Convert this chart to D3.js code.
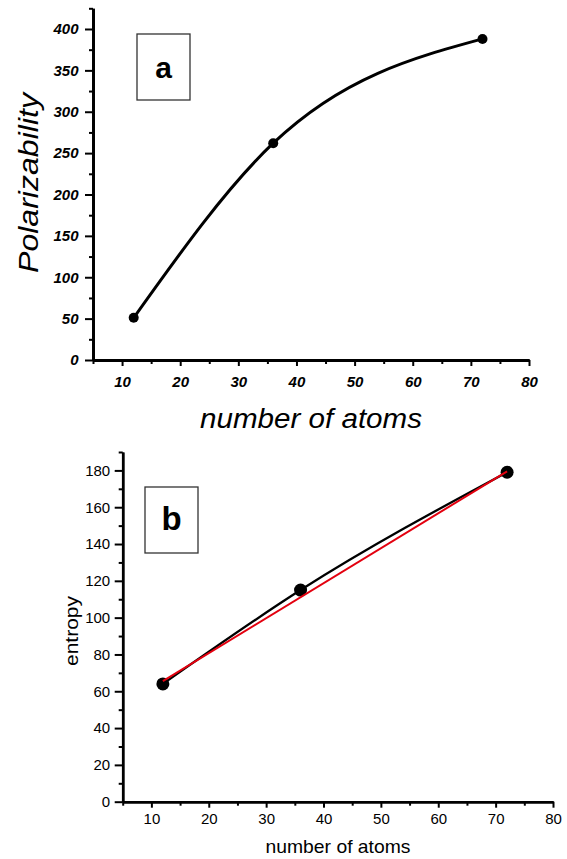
<!DOCTYPE html>
<html>
<head>
<meta charset="utf-8">
<script src="https://cdn.jsdelivr.net/npm/d3@7"></script>
<style>
  body { margin: 0; background: #fff; }
  text { font-family: Arial, "Liberation Sans", sans-serif; }
</style>
</head>
<body>
<div id="chart"></div>
<script>
// panel a
const atomsA = [12, 36, 72];
const polarizability = [51, 262, 388];
// panel b
const atomsB = [12, 36, 72];
const entropy = [64, 115, 179];
// linear fit (red) end points
const fitAtoms = [12, 72];
const fitEntropy = [65.5, 179.5];

const xTicks = [10, 20, 30, 40, 50, 60, 70, 80];
const xMinor = [5, 15, 25, 35, 45, 55, 65, 75];
const polTicks = [0, 50, 100, 150, 200, 250, 300, 350, 400];
const polMinor = [25, 75, 125, 175, 225, 275, 325, 375, 425];
const entTicks = [0, 20, 40, 60, 80, 100, 120, 140, 160, 180];
const entMinor = [10, 30, 50, 70, 90, 110, 130, 150, 170, 190];

const width = 567, height = 859;

const svg = d3.select("#chart")
  .append("svg")
  .attr("width", width)
  .attr("height", height);

function styleAxis(g, sw) {
  g.select(".domain").attr("stroke", "#000").attr("stroke-width", sw);
  g.selectAll(".tick line").attr("stroke", "#000").attr("stroke-width", 2);
}

// ---------- panel a ----------
let xa = d3.scaleLinear().domain([5, 80]).range([93, 529]);
let ya = d3.scaleLinear().domain([0, 425]).range([360, 8.3]);

let ga = svg.append("g");

ga.append("g")
  .attr("transform", `translate(0,${ya(0)})`)
  .call(d3.axisBottom(xa).tickValues(xMinor).tickSize(4).tickSizeOuter(0).tickFormat(""))
  .call(g => styleAxis(g, 2.8));
ga.append("g")
  .attr("transform", `translate(0,${ya(0)})`)
  .call(d3.axisBottom(xa).tickValues(xTicks).tickSize(6).tickSizeOuter(0).tickPadding(10))
  .call(g => styleAxis(g, 2.8))
  .selectAll("text")
  .attr("font-size", 15).attr("font-weight", "bold").attr("font-style", "italic")
  .attr("font-family", "Arial, 'Liberation Sans', sans-serif").attr("fill", "#000");

ga.append("g")
  .attr("transform", `translate(${xa(5)},0)`)
  .call(d3.axisLeft(ya).tickValues(polMinor).tickSize(4).tickSizeOuter(0).tickFormat(""))
  .call(g => styleAxis(g, 2.8));
ga.append("g")
  .attr("transform", `translate(${xa(5)},0)`)
  .call(d3.axisLeft(ya).tickValues(polTicks).tickSize(8).tickSizeOuter(0).tickPadding(6.5))
  .call(g => styleAxis(g, 2.8))
  .selectAll("text")
  .attr("font-size", 15).attr("font-weight", "bold").attr("font-style", "italic")
  .attr("font-family", "Arial, 'Liberation Sans', sans-serif").attr("fill", "#000");

let dataA = atomsA.map((a, i) => ({ x: a, y: polarizability[i] }));

let lineA = d3.line()
  .x(d => xa(d.x))
  .y(d => ya(d.y))
  .curve(d3.curveMonotoneX);

ga.append("path")
  .datum(dataA)
  .attr("fill", "none")
  .attr("stroke", "#000")
  .attr("stroke-width", 3)
  .attr("d", lineA);

ga.selectAll("circle")
  .data(dataA)
  .join("circle")
  .attr("cx", d => xa(d.x))
  .attr("cy", d => ya(d.y))
  .attr("r", 5)
  .attr("fill", "#000");

ga.append("text")
  .attr("x", 311)
  .attr("y", 428)
  .attr("text-anchor", "middle")
  .attr("font-size", 27)
  .attr("font-style", "italic")
  .attr("textLength", 222)
  .attr("lengthAdjust", "spacingAndGlyphs")
  .text("number of atoms");

ga.append("text")
  .attr("transform", "translate(38,183) rotate(-90)")
  .attr("text-anchor", "middle")
  .attr("font-size", 28)
  .attr("font-style", "italic")
  .attr("textLength", 180)
  .attr("lengthAdjust", "spacingAndGlyphs")
  .text("Polarizability");

ga.append("rect")
  .attr("x", 137).attr("y", 34)
  .attr("width", 53).attr("height", 66)
  .attr("fill", "none").attr("stroke", "#333").attr("stroke-width", 1.3);
ga.append("text")
  .attr("x", 163.5).attr("y", 77.5)
  .attr("text-anchor", "middle")
  .attr("font-size", 30).attr("font-weight", "bold")
  .text("a");

// ---------- panel b ----------
let xb = d3.scaleLinear().domain([5, 80]).range([122.7, 553]);
let yb = d3.scaleLinear().domain([0, 190]).range([801.7, 452]);

let gb = svg.append("g");

gb.append("g")
  .attr("transform", `translate(0,${yb(0)})`)
  .call(d3.axisBottom(xb).tickValues(xMinor).tickSize(4).tickSizeOuter(0).tickFormat(""))
  .call(g => styleAxis(g, 2.5));
gb.append("g")
  .attr("transform", `translate(0,${yb(0)})`)
  .call(d3.axisBottom(xb).tickValues(xTicks).tickSize(6).tickSizeOuter(0).tickPadding(6))
  .call(g => styleAxis(g, 2.5))
  .selectAll("text")
  .attr("font-size", 15)
  .attr("font-family", "Arial, 'Liberation Sans', sans-serif").attr("fill", "#000");

gb.append("g")
  .attr("transform", `translate(${xb(5)},0)`)
  .call(d3.axisLeft(yb).tickValues(entMinor).tickSize(4).tickSizeOuter(0).tickFormat(""))
  .call(g => styleAxis(g, 2.5));
gb.append("g")
  .attr("transform", `translate(${xb(5)},0)`)
  .call(d3.axisLeft(yb).tickValues(entTicks).tickSize(8).tickSizeOuter(0).tickPadding(4.5))
  .call(g => styleAxis(g, 2.5))
  .selectAll("text")
  .attr("font-size", 15)
  .attr("font-family", "Arial, 'Liberation Sans', sans-serif").attr("fill", "#000");

let dataB = atomsB.map((a, i) => ({ x: a, y: entropy[i] }));
let fitB = fitAtoms.map((a, i) => ({ x: a, y: fitEntropy[i] }));

let lineB = d3.line()
  .x(d => xb(d.x))
  .y(d => yb(d.y))
  .curve(d3.curveMonotoneX);

gb.append("path")
  .datum(dataB)
  .attr("fill", "none")
  .attr("stroke", "#000")
  .attr("stroke-width", 2.3)
  .attr("d", lineB);

gb.selectAll("circle")
  .data(dataB)
  .join("circle")
  .attr("cx", d => xb(d.x))
  .attr("cy", d => yb(d.y))
  .attr("r", 6.5)
  .attr("fill", "#000");

gb.append("path")
  .datum(fitB)
  .attr("fill", "none")
  .attr("stroke", "#e3000f")
  .attr("stroke-width", 2)
  .attr("d", d3.line().x(d => xb(d.x)).y(d => yb(d.y)));

gb.append("text")
  .attr("x", 338)
  .attr("y", 853)
  .attr("text-anchor", "middle")
  .attr("font-size", 19)
  .attr("textLength", 145)
  .attr("lengthAdjust", "spacingAndGlyphs")
  .text("number of atoms");

gb.append("text")
  .attr("transform", "translate(78,631) rotate(-90)")
  .attr("text-anchor", "middle")
  .attr("font-size", 19)
  .attr("textLength", 70)
  .attr("lengthAdjust", "spacingAndGlyphs")
  .text("entropy");

gb.append("rect")
  .attr("x", 145).attr("y", 487)
  .attr("width", 53).attr("height", 66)
  .attr("fill", "none").attr("stroke", "#333").attr("stroke-width", 1.3);
gb.append("text")
  .attr("x", 171.5).attr("y", 530)
  .attr("text-anchor", "middle")
  .attr("font-size", 33).attr("font-weight", "bold")
  .text("b");
</script>
</body>
</html>
